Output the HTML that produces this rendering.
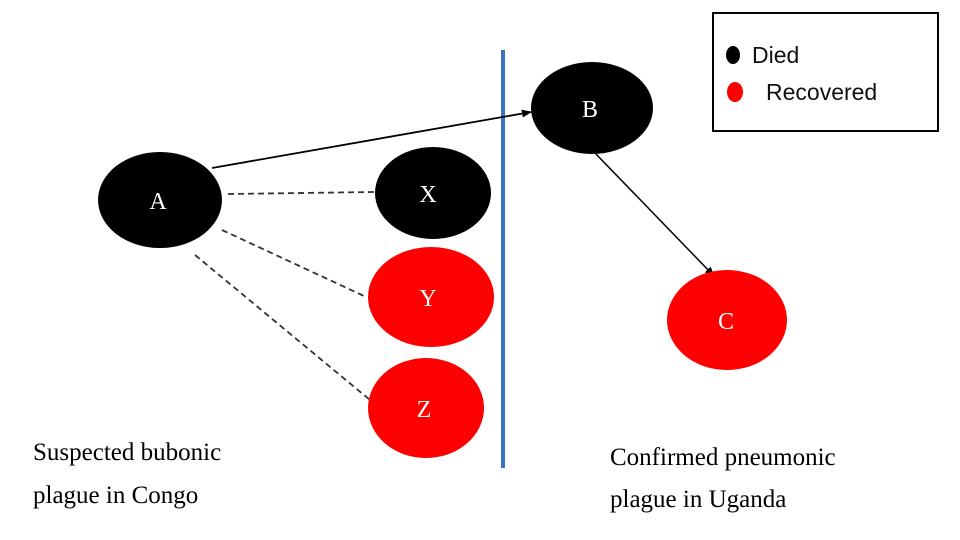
<!DOCTYPE html>
<html><head><meta charset="utf-8"><style>
html,body{margin:0;padding:0;background:#fff;}
svg{display:block;}
</style></head><body>
<svg width="960" height="540" viewBox="0 0 960 540" xmlns="http://www.w3.org/2000/svg">
<defs><marker id="ar" markerWidth="10" markerHeight="8" refX="9" refY="4" orient="auto" markerUnits="userSpaceOnUse"><path d="M0,0 L10,4 L0,8 z" fill="#000"/></marker></defs>
<line x1="503" y1="50" x2="503" y2="468" stroke="#3a72c4" stroke-width="4"/>
<line x1="212" y1="168" x2="531" y2="112" stroke="#000" stroke-width="1.8" marker-end="url(#ar)"/>
<line x1="595" y1="153" x2="714" y2="276" stroke="#000" stroke-width="1.5" marker-end="url(#ar)"/>
<g stroke="#333" stroke-width="1.8" stroke-dasharray="6,4">
<line x1="228" y1="194" x2="374" y2="192"/>
<line x1="222" y1="230" x2="364" y2="296"/>
<line x1="195" y1="255" x2="370" y2="400"/>
</g>
<ellipse cx="160" cy="200" rx="62" ry="48" fill="#000"/>
<ellipse cx="433" cy="193" rx="58" ry="46" fill="#000"/>
<ellipse cx="431" cy="297" rx="63" ry="50" fill="#f00"/>
<ellipse cx="426" cy="408" rx="58" ry="50" fill="#f00"/>
<ellipse cx="592" cy="108" rx="61" ry="46" fill="#000"/>
<ellipse cx="727" cy="320" rx="60" ry="50" fill="#f00"/>
<g font-family="Liberation Serif, serif" font-size="24" fill="#fff" text-anchor="middle">
<text x="158" y="209">A</text><text x="428" y="202">X</text><text x="428" y="306">Y</text>
<text x="424" y="417">Z</text><text x="590" y="117">B</text><text x="726" y="329">C</text>
</g>
<rect x="713" y="13" width="225" height="118" fill="#fff" stroke="#000" stroke-width="2"/>
<ellipse cx="733" cy="55" rx="7" ry="9" fill="#000"/>
<ellipse cx="735" cy="92" rx="8" ry="10" fill="#f00"/>
<g font-family="Liberation Sans, sans-serif" font-size="23" fill="#111">
<text x="752" y="63">Died</text><text x="766" y="100">Recovered</text>
</g>
<g font-family="Liberation Serif, serif" font-size="25" fill="#000">
<text x="33" y="460">Suspected bubonic</text><text x="33" y="503">plague in Congo</text>
<text x="610" y="465">Confirmed pneumonic</text><text x="610" y="507">plague in Uganda</text>
</g>
</svg>
</body></html>
